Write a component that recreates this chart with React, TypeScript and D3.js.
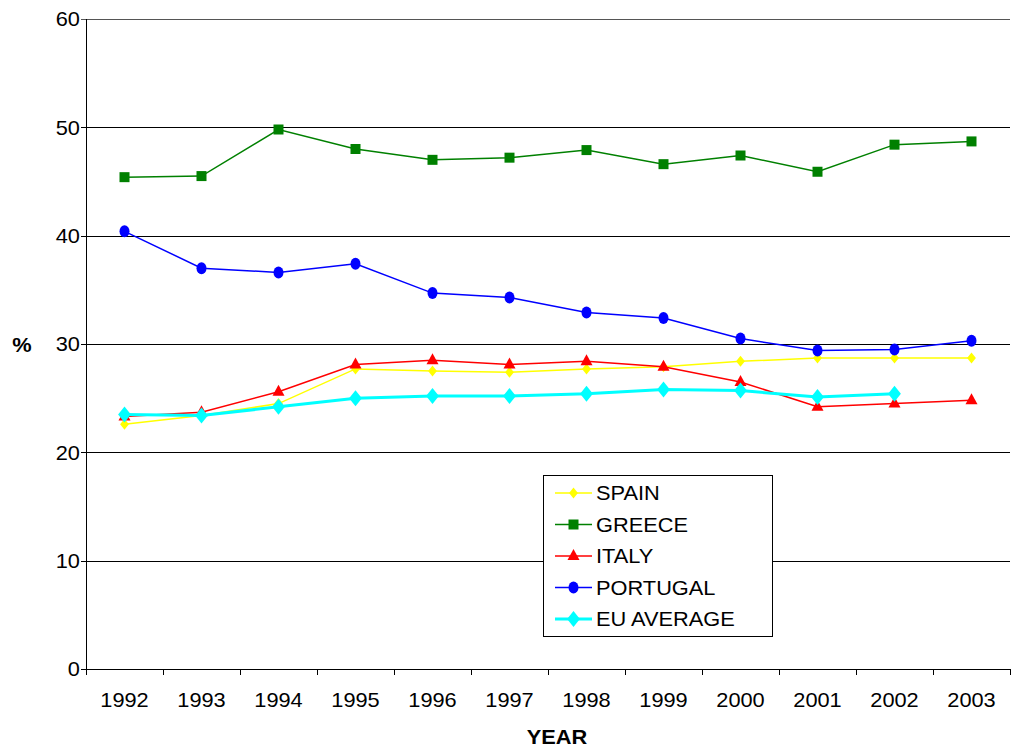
import * as d3 from "d3";

const W = 1011;
const H = 749;
const M = { top: 19, right: 1, bottom: 80, left: 86 };
const IW = W - M.left - M.right;
const IH = H - M.top - M.bottom;

const years = ["1992", "1993", "1994", "1995", "1996", "1997", "1998", "1999", "2000", "2001", "2002", "2003"];
const yTicks = [0, 10, 20, 30, 40, 50, 60];

const spain = [22.6, 23.4, 24.5, 27.7, 27.5, 27.4, 27.7, 27.9, 28.4, 28.7, 28.7, 28.7];
const greece = [45.4, 45.5, 49.8, 48.0, 47.0, 47.2, 47.9, 46.6, 47.4, 45.9, 48.4, 48.7];
const italy = [23.3, 23.7, 25.6, 28.1, 28.5, 28.1, 28.4, 27.9, 26.5, 24.2, 24.5, 24.8];
const portugal = [40.4, 37.0, 36.6, 37.4, 34.7, 34.3, 32.9, 32.4, 30.5, 29.4, 29.5, 30.3];
const euAverage: (number | null)[] = [23.5, 23.4, 24.2, 25.0, 25.2, 25.2, 25.4, 25.8, 25.7, 25.1, 25.4, null];

type Shape = "diamond" | "square" | "triangle" | "circle" | "bigDiamond";
const series: { name: string; color: string; width: number; shape: Shape; values: (number | null)[] }[] = [
  { name: "SPAIN", color: "#ffff00", width: 1.5, shape: "diamond", values: spain },
  { name: "GREECE", color: "#008000", width: 1.5, shape: "square", values: greece },
  { name: "ITALY", color: "#ff0000", width: 1.5, shape: "triangle", values: italy },
  { name: "PORTUGAL", color: "#0000ff", width: 1.5, shape: "circle", values: portugal },
  { name: "EU AVERAGE", color: "#00ffff", width: 3, shape: "bigDiamond", values: euAverage },
];

const FONT = "'Liberation Sans', Arial, sans-serif";
const SX = 1.09; // reference text is a bit wide

// text with a slight horizontal stretch
function T({ x, y, anchor = "start", bold = false, dy, children }: any) {
  return (
    <text
      transform={`translate(${x},${y}) scale(${SX},1)`}
      dy={dy}
      textAnchor={anchor}
      fontSize={20}
      fontWeight={bold ? "bold" : "normal"}
      fill="#000">
      {children}
    </text>
  );
}

function Marker({ shape, x, y, color }: { shape: Shape; x: number; y: number; color: string }) {
  if (shape === "square") return <rect x={x - 5} y={y - 5} width={10} height={10} fill={color} />;
  if (shape === "circle") return <ellipse cx={x} cy={y} rx={5} ry={6} fill={color} />;
  if (shape === "triangle")
    return <path d={`M${x},${y - 7}L${x + 6},${y + 4}L${x - 6},${y + 4}Z`} fill={color} />;
  const r = shape === "bigDiamond" ? 8 : 5.5;
  return <path d={`M${x},${y - r}L${x + r * 0.8},${y}L${x},${y + r}L${x - r * 0.8},${y}Z`} fill={color} />;
}

export default function App() {
  const x = d3.scaleBand<string>().domain(years).range([0, IW]);
  const y = d3.scaleLinear().domain([0, 60]).range([IH, 0]);
  const cx = (yr: string) => (x(yr) ?? 0) + x.bandwidth() / 2;

  const line = d3
    .line<number | null>()
    .defined((d) => d != null)
    .x((_, i) => cx(years[i]))
    .y((d) => y(d as number));

  const legend = { x: 543, y: 475, w: 229, h: 161, row: 31.5 };

  return (
    <svg width={W} height={H} style={{ position: "absolute", left: 0, top: 0, fontFamily: FONT }}>
      <rect width={W} height={H} fill="#fff" />
      <g transform={`translate(${M.left},${M.top})`}>
        {/* gridlines + y labels */}
        {yTicks.map((t) => (
          <g key={t}>
            <line x1={-5} x2={IW} y1={Math.round(y(t)) + 0.5} y2={Math.round(y(t)) + 0.5} stroke={t === 60 ? "#555" : "#000"} />
            <T x={-6} y={y(t)} dy="0.36em" anchor="end">
              {t}
            </T>
          </g>
        ))}
        <line x1={0.5} x2={0.5} y1={0} y2={IH} stroke="#000" />
        {d3.range(years.length + 1).map((i) => (
          <line key={i} x1={Math.round(i * x.step()) + 0.5} x2={Math.round(i * x.step()) + 0.5} y1={IH} y2={IH + 6} stroke="#000" />
        ))}
        {years.map((yr) => (
          <T key={yr} x={cx(yr)} y={IH + 38} anchor="middle">
            {yr}
          </T>
        ))}

        {series.map((s) => (
          <g key={s.name}>
            <path d={line(s.values) ?? ""} fill="none" stroke={s.color} strokeWidth={s.width} />
            {s.values.map((v, i) =>
              v == null ? null : <Marker key={i} shape={s.shape} x={cx(years[i])} y={y(v)} color={s.color} />
            )}
          </g>
        ))}
      </g>

      <T x={22} y={352} anchor="middle" bold>
        %
      </T>
      <T x={557} y={744} anchor="middle" bold>
        YEAR
      </T>

      {/* legend */}
      <rect x={legend.x + 0.5} y={legend.y + 0.5} width={legend.w} height={legend.h} fill="#fff" stroke="#000" />
      {series.map((s, i) => {
        const ly = legend.y + 18 + i * legend.row;
        return (
          <g key={s.name}>
            <line x1={555} x2={592} y1={ly} y2={ly} stroke={s.color} strokeWidth={s.width} />
            <Marker shape={s.shape} x={573.5} y={ly} color={s.color} />
            <T x={596} y={ly} dy="0.36em">
              {s.name}
            </T>
          </g>
        );
      })}
    </svg>
  );
}
